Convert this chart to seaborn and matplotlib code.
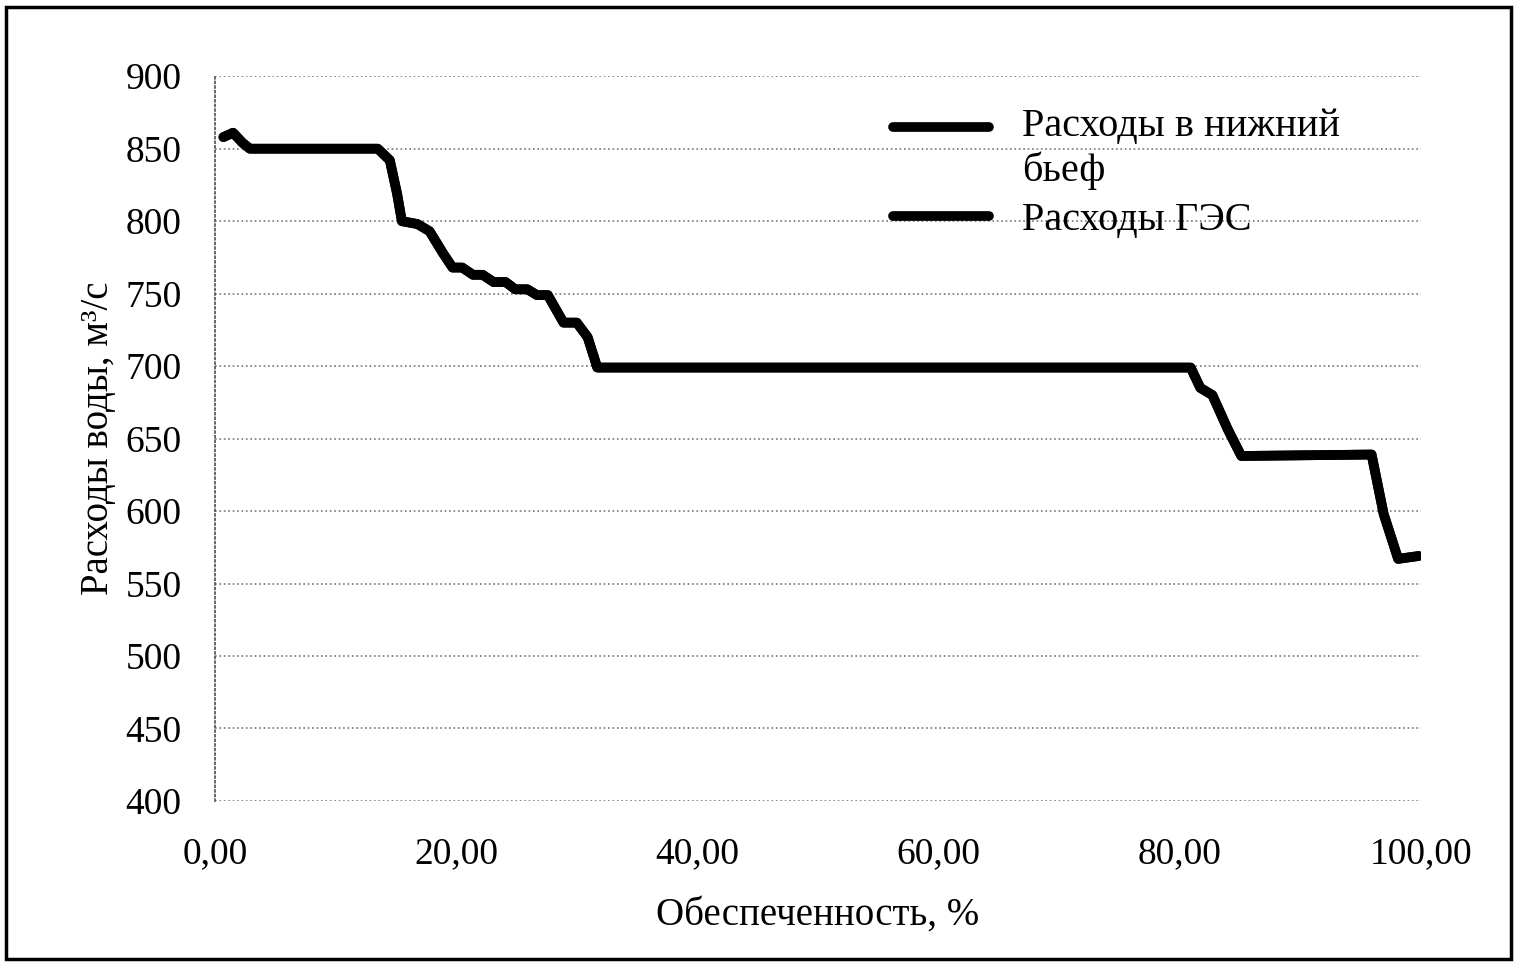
import seaborn as sns
import matplotlib.pyplot as plt
import pandas as pd
from matplotlib.ticker import FuncFormatter
from matplotlib.patches import Rectangle

# data
obesp = [0.7, 1.5, 2.3, 2.9, 13.5, 14.5, 15.1, 15.5, 16.8, 17.8, 18.9, 19.7, 20.5,
         21.4, 22.2, 23.1, 24.1, 24.9, 25.9, 26.7, 27.6, 28.9, 30.0, 30.9, 31.7,
         80.9, 81.7, 82.7, 84.0, 85.1, 95.9, 96.9, 98.1, 99.8]
q_nb = [858, 861, 854, 850, 850, 842, 819, 800, 798, 793, 778, 768, 768,
        763, 763, 758, 758, 753, 753, 749, 749, 730, 730, 720, 699,
        699, 685, 680, 656, 638, 639, 598, 567, 569]
# the HPP discharge curve coincides with the tailwater one
q_ges = [858, 861, 854, 850, 850, 842, 819, 800, 798, 793, 778, 768, 768,
         763, 763, 758, 758, 753, 753, 749, 749, 730, 730, 720, 699,
         699, 685, 680, 656, 638, 639, 598, 567, 569]
series = ["Расходы в нижний\nбьеф", "Расходы ГЭС"]

df = pd.concat([
    pd.DataFrame({"x": obesp, "q": q_nb, "s": series[0]}),
    pd.DataFrame({"x": obesp, "q": q_ges, "s": series[1]}),
])

sns.set_theme(style="white")
plt.rcParams["font.family"] = ["Liberation Serif", "DejaVu Serif"]
plt.rcParams["text.color"] = "black"
plt.rcParams["axes.labelcolor"] = "black"

fig = plt.figure(figsize=(15.19, 9.65), dpi=100)
ax = fig.add_axes([0.1415, 0.170, 0.794, 0.751])

sns.lineplot(data=df, x="x", y="q", hue="s", palette=["black", "black"],
             linewidth=7, ax=ax, sort=False)

ax.set_xlim(0, 100)
ax.set_ylim(400, 900)
ax.set_xticks(range(0, 101, 20))
ax.set_yticks(range(400, 901, 50))
ax.xaxis.set_major_formatter(FuncFormatter(lambda v, p: f"{v:.2f}".replace(".", ",")))
ax.tick_params(axis="both", labelsize=27, colors="black")
ax.tick_params(axis="y", length=6, width=1, direction="out", pad=18)
ax.tick_params(axis="x", length=0, pad=26)

ax.grid(axis="y", linestyle=":", color="#777777", linewidth=1.2)
for s in ["top", "right", "bottom"]:
    ax.spines[s].set_visible(False)
ax.spines["left"].set_linestyle(":")
ax.spines["left"].set_color("#555555")

ax.set_xlabel("Обеспеченность, %", fontsize=28, labelpad=18)
ax.set_ylabel("Расходы воды, м³/с", fontsize=28, labelpad=6)

leg = ax.legend(loc="upper left", bbox_to_anchor=(0.532, 1.006), frameon=False,
                fontsize=29, handlelength=2.4, handletextpad=0.8,
                labelspacing=0.3)
for line in leg.get_lines():
    line.set_linewidth(7)
# excel puts the marker of a wrapped entry next to its first line
first = leg.get_lines()[0]
first.set_ydata([y + 0.55 * 29 for y in first.get_ydata()])

fig.patches.append(Rectangle((0.004, 0.006), 0.991, 0.987, transform=fig.transFigure,
                             fill=False, edgecolor="black", linewidth=2.5))

fig.savefig("out.png", dpi=100)
